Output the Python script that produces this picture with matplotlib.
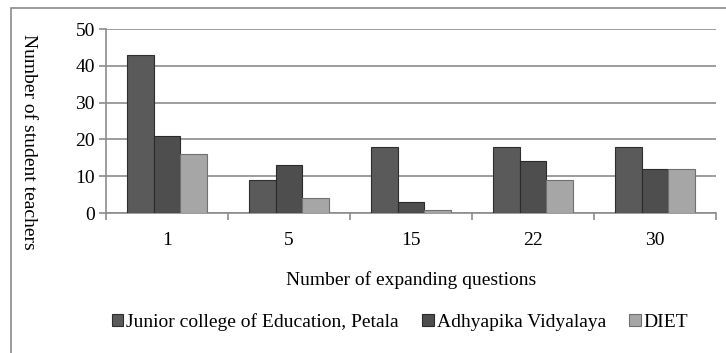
import numpy as np
import matplotlib.pyplot as plt
from matplotlib.patches import Rectangle

categories = ["1", "5", "15", "22", "30"]
series_names = ["Junior college of Education, Petala", "Adhyapika Vidyalaya", "DIET"]
junior = [43, 9, 18, 18, 18]
adhyapika = [21, 13, 3, 14, 12]
diet = [16, 4, 0.8, 9, 12]
yticks = [0, 10, 20, 30, 40, 50]

colors = ["#5a5a5a", "#4e4e4e", "#a6a6a6"]
edges = ["#2e2e2e", "#2a2a2a", "#707070"]

plt.rcParams["font.family"] = ["Liberation Serif", "DejaVu Serif"]
fs = 14

fig = plt.figure(figsize=(7.26, 3.53), dpi=100)
# outer chart border, open at the right and bottom like the source
fig.patches.append(Rectangle((11 / 726, -0.05), 1.0, 1 - 8 / 353 + 0.05,
                             transform=fig.transFigure, fill=False,
                             edgecolor="#8a8a8a", lw=1.2))

ax = fig.add_axes([106 / 726, 1 - 213 / 353, 610 / 726, 184 / 353])
x = np.arange(len(categories))
w = 0.22
for i, vals in enumerate([junior, adhyapika, diet]):
    ax.bar(x + (i - 1) * w, vals, width=w, color=colors[i], edgecolor=edges[i],
           lw=0.8, label=series_names[i], zorder=3)

ax.set_xlim(-0.5, len(categories) - 0.5)
ax.set_ylim(0, 50)
ax.set_yticks(yticks)
ax.yaxis.grid(True, color="#8c8c8c", lw=1.2, zorder=0)
ax.set_xticks(x)
ax.set_xticklabels(categories)
ax.set_xticks(np.arange(len(categories) + 1) - 0.5, minor=True)
ax.tick_params(axis="x", which="major", length=0, pad=14, labelsize=fs)
ax.tick_params(axis="x", which="minor", length=5, color="#8c8c8c", width=1.2)
ax.tick_params(axis="y", length=5, color="#8c8c8c", width=1.2, labelsize=fs, pad=3)
for s in ["top", "right"]:
    ax.spines[s].set_visible(False)
for s in ["left", "bottom"]:
    ax.spines[s].set_color("#8c8c8c")
    ax.spines[s].set_linewidth(1.2)

ax.set_ylabel("Number of student teachers", rotation=270, fontsize=fs, labelpad=0)
ax.yaxis.set_label_coords(-0.141, 0.386)
ax.set_xlabel("Number of expanding questions", fontsize=fs)
ax.xaxis.set_label_coords(0.5, -(280 - 213) / 184)
ax.xaxis.label.set_va("center")

fig.legend(loc="center", bbox_to_anchor=(0.551, 1 - 322 / 353), ncol=3, frameon=False,
           fontsize=fs, handlelength=0.6, handleheight=0.6, handletextpad=0.15,
           columnspacing=1.2)

fig.savefig("out.png", dpi=100)
